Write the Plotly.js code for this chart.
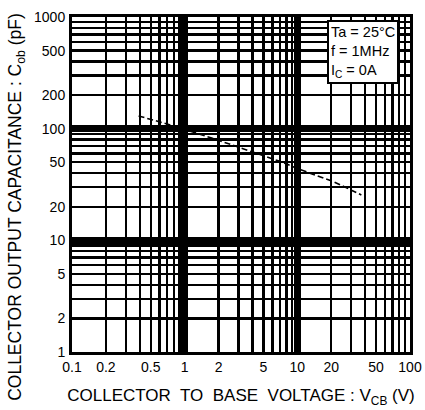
<!DOCTYPE html>
<html><head><meta charset="utf-8">
<script src="https://cdn.plot.ly/plotly-3.0.1.min.js"></script>
<style>html,body{margin:0;padding:0;background:#fff;}#chart{width:425px;height:410px;}</style>
</head><body><div id="chart"></div>
<script>
// Data
const vcb = [0.39, 0.85, 1.9, 3.6, 7, 10.6, 21, 37];
const cob = [130, 104, 80, 64, 51, 43, 33.5, 25.5];

const xTickVals = [0.1, 0.2, 0.5, 1, 2, 5, 10, 20, 50, 100];
const xTickText = ['0.1', '0.2', '0.5', '1', '2', '5', '10', '20', '50', '100'];
const yTickVals = [1, 2, 5, 10, 20, 50, 100, 200, 500, 1000];
const yTickText = ['1', '2', '5', '10', '20', '50', '100', '200', '500', '1000'];
const xMajor = [1, 10];
const yMajor = [10, 100];
const digits = [2, 3, 4, 5, 6, 7, 8, 9];
const xMinor = [0.1, 1, 10].flatMap(d => digits.map(k => +(k * d).toPrecision(3)));
const yMinor = [1, 10, 100].flatMap(d => digits.map(k => +(k * d).toPrecision(3)));

const xTitle = 'COLLECTOR  TO  BASE  VOLTAGE : V<sub>CB</sub> (V)';
const yTitle = 'COLLECTOR OUTPUT CAPACITANCE : C<sub>ob</sub> (pF)';
const conditions = 'Ta = 25°C<br>f = 1MHz<br>I<sub>C</sub> = 0A';

const font = {family: 'Liberation Sans, Arial, sans-serif', color: '#000'};

const traces = [
  {x: [], y: [], xaxis: 'x', yaxis: 'y', type: 'scatter', showlegend: false, hoverinfo: 'skip'},
  {x: vcb, y: cob, xaxis: 'x2', yaxis: 'y2', type: 'scatter', mode: 'lines',
   line: {color: '#000', width: 1.6, dash: '6px,3px'}, showlegend: false}
];

const xr = [-1, 2], yr = [0, 3];
const layout = {
  width: 425, height: 410,
  margin: {l: 72, r: 15, t: 17, b: 58},
  paper_bgcolor: '#fff', plot_bgcolor: '#fff',
  font: Object.assign({size: 14}, font),
  xaxis: {type: 'log', range: xr, tickmode: 'array', tickvals: xTickVals, ticktext: xTickText,
    showgrid: false, zeroline: false, ticks: '', ticklen: 0, ticklabelstandoff: 0,
    showline: true, linewidth: 3, linecolor: '#000', mirror: true,
    tickfont: Object.assign({size: 14}, font),
    minor: {tickmode: 'array', tickvals: xMinor, showgrid: true, gridcolor: '#000', gridwidth: 2.4, ticks: ''},
    title: {text: xTitle, font: Object.assign({size: 17}, font), standoff: 16}},
  yaxis: {type: 'log', range: yr, tickmode: 'array', tickvals: yTickVals, ticktext: yTickText,
    showgrid: false, zeroline: false, ticks: '', ticklen: 0, ticklabelstandoff: 1,
    showline: true, linewidth: 3, linecolor: '#000', mirror: true,
    tickfont: Object.assign({size: 14}, font),
    minor: {tickmode: 'array', tickvals: yMinor, showgrid: true, gridcolor: '#000', gridwidth: 2.4, ticks: ''}},
  xaxis2: {type: 'log', range: xr, overlaying: 'x', tickmode: 'array', tickvals: xMajor,
    showgrid: true, gridcolor: '#000', gridwidth: 7, showticklabels: false, ticks: '', zeroline: false, showline: false},
  yaxis2: {type: 'log', range: yr, overlaying: 'y', tickmode: 'array', tickvals: yMajor,
    showgrid: true, gridcolor: '#000', gridwidth: 7, showticklabels: false, ticks: '', zeroline: false, showline: false},
  annotations: [{
    xref: 'paper', yref: 'paper', x: 0.755, y: 0.99, xanchor: 'left', yanchor: 'top',
    text: conditions, align: 'left', showarrow: false,
    bgcolor: '#fff', bordercolor: '#000', borderwidth: 2, borderpad: 2,
    font: Object.assign({size: 14.5}, font)
  }, {
    xref: 'paper', yref: 'paper', x: -0.163, y: 0.433, xanchor: 'center', yanchor: 'middle',
    text: yTitle, textangle: -90, showarrow: false,
    font: Object.assign({size: 17.5}, font)
  }]
};

Plotly.newPlot('chart', traces, layout, {staticPlot: true, displayModeBar: false});
</script></body></html>
